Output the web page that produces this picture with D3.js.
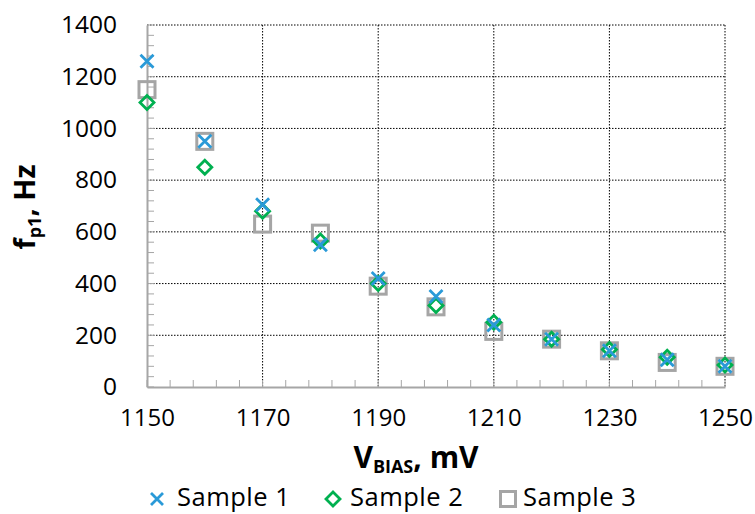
<!DOCTYPE html>
<html>
<head>
<meta charset="utf-8">
<script src="https://cdn.jsdelivr.net/npm/d3@7"></script>
<style>
  body { margin: 0; background: #fff; }
  svg { display: block; }
</style>
</head>
<body>
<svg id="chart" width="755" height="514"></svg>
<script>
const vbias = [1150, 1160, 1170, 1180, 1190, 1200, 1210, 1220, 1230, 1240, 1250];
const sample1 = [1260, 950, 705, 550, 420, 350, 240, 185, 140, 105, 80];
const sample2 = [1100, 850, 680, 565, 400, 315, 250, 185, 145, 115, 85];
const sample3 = [1150, 950, 630, 595, 390, 310, 215, 185, 140, 95, 80];
const xTicks = [1150, 1170, 1190, 1210, 1230, 1250];
const yTicks = [0, 200, 400, 600, 800, 1000, 1200, 1400];
const seriesNames = ["Sample 1", "Sample 2", "Sample 3"];

const colors = { s1: "#2a9ad8", s2: "#00b050", s3: "#a5a5a5" };
const font = "'Open Sans', sans-serif";

const svg = d3.select("#chart");
const L = 147, R = 725, T = 25, B = 387;

const x = d3.scaleLinear().domain([1150, 1250]).range([L, R]);
const y = d3.scaleLinear().domain([0, 1400]).range([B, T]);

// gridlines (dotted black)
const grid = svg.append("g");
grid.selectAll(".hg").data(yTicks.filter(d => d > 0)).enter().append("line")
  .attr("x1", L).attr("x2", R).attr("y1", d => y(d)).attr("y2", d => y(d))
  .attr("stroke", "#000").attr("stroke-width", 1).attr("stroke-dasharray", "1.5,1.5");
grid.selectAll(".vg").data(xTicks.filter(d => d > 1150)).enter().append("line")
  .attr("y1", T).attr("y2", B).attr("x1", d => x(d)).attr("x2", d => x(d))
  .attr("stroke", "#000").attr("stroke-width", 1).attr("stroke-dasharray", "1.5,1.5");

// minor ticks
const axisColor = "#a6a6a6";
const yMinor = d3.range(0, 1401, 40);
svg.append("g").selectAll("line").data(yMinor).enter().append("line")
  .attr("x1", L).attr("x2", L + 7).attr("y1", d => y(d)).attr("y2", d => y(d))
  .attr("stroke", axisColor).attr("stroke-width", 1);
const xMinor = d3.range(1150, 1251, 4);
svg.append("g").selectAll("line").data(xMinor).enter().append("line")
  .attr("y1", B).attr("y2", B - 7).attr("x1", d => x(d)).attr("x2", d => x(d))
  .attr("stroke", axisColor).attr("stroke-width", 1);

// axes lines + labels
const yAxis = svg.append("g").attr("transform", `translate(${L},0)`)
  .call(d3.axisLeft(y).tickValues(yTicks).tickSize(0).tickPadding(30).tickFormat(d3.format("d")));
yAxis.select(".domain").attr("stroke", axisColor).attr("stroke-width", 2);
yAxis.selectAll("text").attr("font-family", font).attr("font-size", 24.5).attr("fill", "#000");

const xAxis = svg.append("g").attr("transform", `translate(0,${B})`)
  .call(d3.axisBottom(x).tickValues(xTicks).tickSize(0).tickPadding(22).tickFormat(d3.format("d")));
xAxis.select(".domain").attr("stroke", axisColor).attr("stroke-width", 2);
xAxis.selectAll("text").attr("font-family", font).attr("font-size", 24).attr("fill", "#000");

// markers
function drawX(g, cx, cy, s, c) {
  g.append("path").attr("d", `M${cx - s},${cy - s}L${cx + s},${cy + s}M${cx - s},${cy + s}L${cx + s},${cy - s}`)
    .attr("stroke", c).attr("stroke-width", 2.8).attr("fill", "none");
}
function drawDiamond(g, cx, cy, s, c) {
  g.append("path").attr("d", `M${cx},${cy - s}L${cx + s},${cy}L${cx},${cy + s}L${cx - s},${cy}Z`)
    .attr("stroke", c).attr("stroke-width", 2.8).attr("fill", "none");
}
function drawSquare(g, cx, cy, s, c) {
  g.append("rect").attr("x", cx - s).attr("y", cy - s).attr("width", 2 * s).attr("height", 2 * s)
    .attr("stroke", c).attr("stroke-width", 3).attr("fill", "none");
}

const mk = svg.append("g");
vbias.forEach((v, i) => drawSquare(mk, x(v), y(sample3[i]), 8, colors.s3));
vbias.forEach((v, i) => drawDiamond(mk, x(v), y(sample2[i]), 7, colors.s2));
vbias.forEach((v, i) => drawX(mk, x(v), y(sample1[i]), 6.5, colors.s1));

// axis titles
const yt = svg.append("text")
  .attr("transform", `translate(35,207) rotate(-90)`)
  .attr("text-anchor", "middle")
  .attr("font-family", font).attr("font-weight", "bold").attr("font-size", 29).attr("fill", "#000");
yt.append("tspan").text("f");
yt.append("tspan").attr("font-size", 18).attr("dy", 6).text("p1");
yt.append("tspan").attr("dy", -6).text(", Hz");

const xt = svg.append("text")
  .attr("x", 416).attr("y", 468)
  .attr("text-anchor", "middle")
  .attr("font-family", font).attr("font-weight", "bold").attr("font-size", 30).attr("fill", "#000");
xt.append("tspan").text("V");
xt.append("tspan").attr("font-size", 18).attr("dy", 5).text("BIAS");
xt.append("tspan").attr("dy", -5).text(", mV");

// legend
const leg = svg.append("g");
const legX = [157, 333, 508];
const legText = [177, 350, 523];
const legY = 506;
drawX(leg, legX[0], legY - 7, 6, colors.s1);
drawDiamond(leg, legX[1], legY - 7, 7, colors.s2);
drawSquare(leg, legX[2], legY - 7, 7.5, colors.s3);
seriesNames.forEach((n, i) => {
  leg.append("text").attr("x", legText[i]).attr("y", legY)
    .attr("font-family", font).attr("font-size", 25.5).attr("letter-spacing", 0.5)
    .attr("fill", "#000").text(n);
});
</script>
</body>
</html>
